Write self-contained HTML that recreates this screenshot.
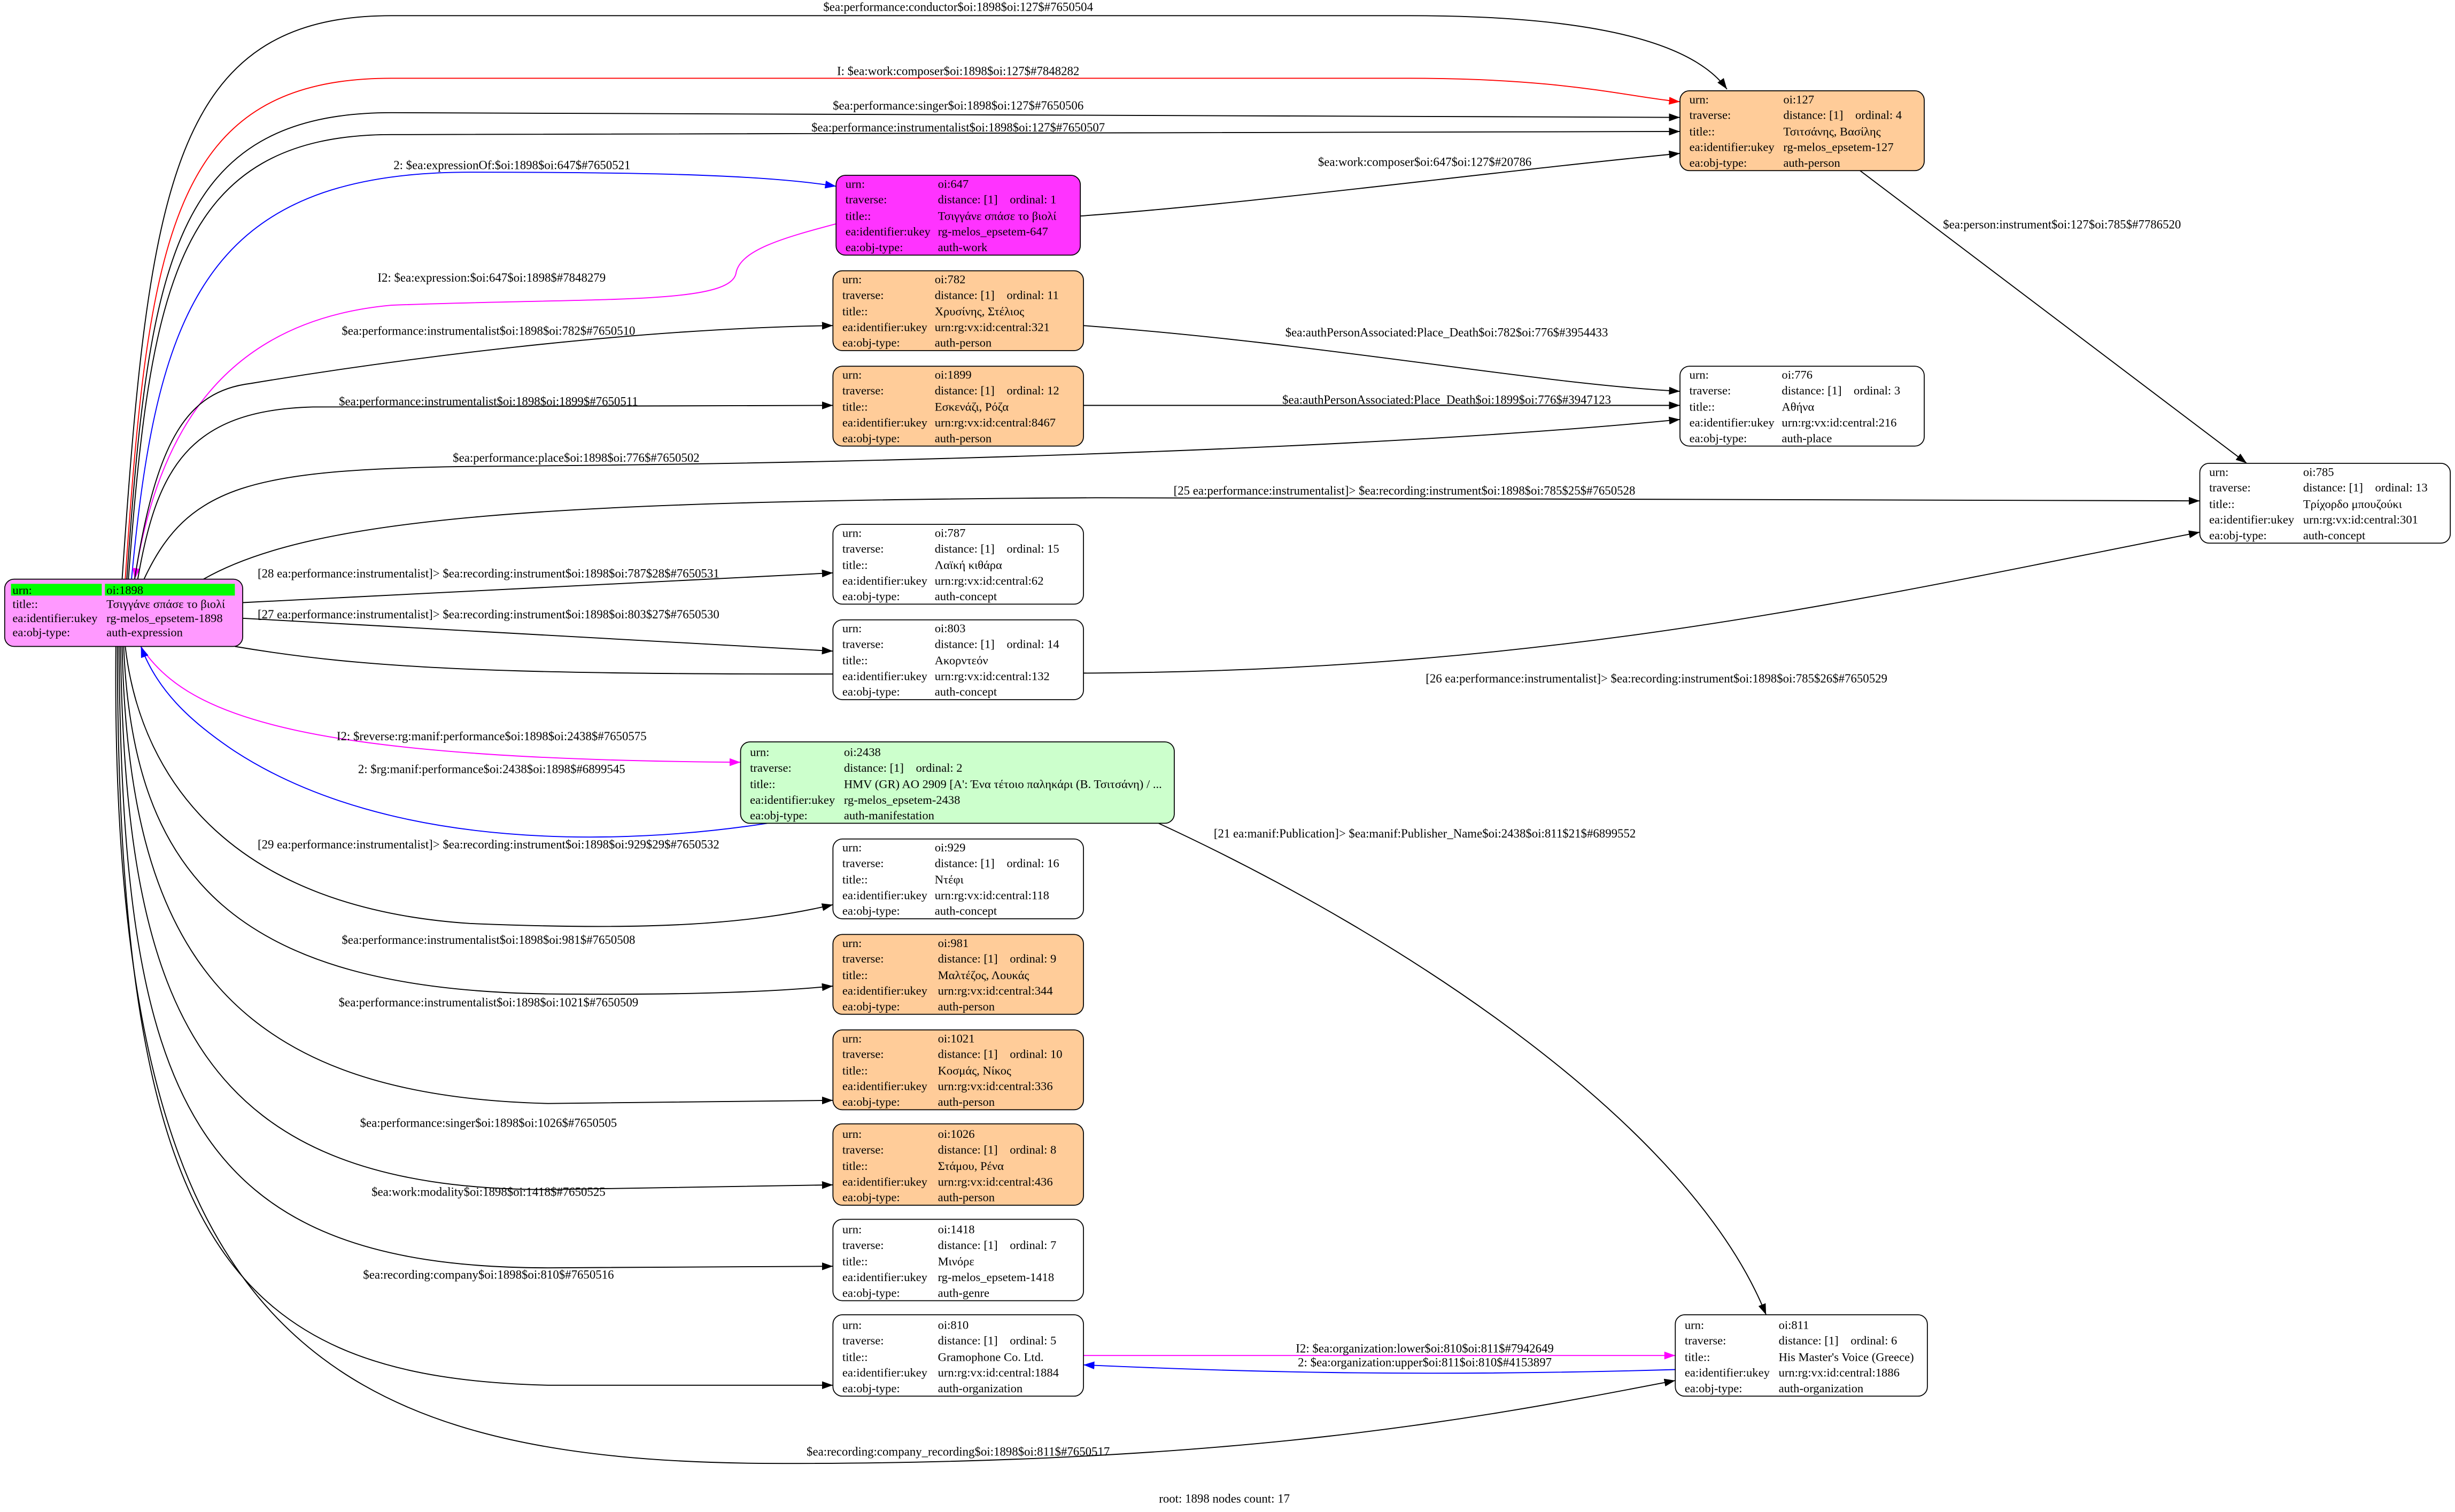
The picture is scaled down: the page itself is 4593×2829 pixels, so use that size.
<!DOCTYPE html>
<html><head><meta charset="utf-8">
<style>
html,body{margin:0;padding:0;background:#fff;}
svg{display:block;}
text{font-family:"Liberation Serif","DejaVu Serif",serif;font-size:7.7px;fill:#000;}
.e text{font-size:7.8px;}
</style></head>
<body>
<svg width="4593" height="2829" viewBox="0 0 1568 966" preserveAspectRatio="none" xmlns="http://www.w3.org/2000/svg">
<defs>
<marker id="ak" markerWidth="7" markerHeight="5" refX="7" refY="2.5" orient="auto" markerUnits="userSpaceOnUse"><path d="M0,0 L7,2.5 L0,5z" fill="#000"/></marker>
<marker id="ar" markerWidth="7" markerHeight="5" refX="7" refY="2.5" orient="auto" markerUnits="userSpaceOnUse"><path d="M0,0 L7,2.5 L0,5z" fill="#f00"/></marker>
<marker id="ab" markerWidth="7" markerHeight="5" refX="7" refY="2.5" orient="auto" markerUnits="userSpaceOnUse"><path d="M0,0 L7,2.5 L0,5z" fill="#00f"/></marker>
<marker id="am" markerWidth="7" markerHeight="5" refX="7" refY="2.5" orient="auto" markerUnits="userSpaceOnUse"><path d="M0,0 L7,2.5 L0,5z" fill="#f0f"/></marker>
</defs>
<g fill="none" stroke-width="0.65">
<path stroke="#000" marker-end="url(#ak)" d="M78,370 C95,120 110,10 250,10 L900,10 C1010,10 1080,25 1103,57"/>
<path stroke="#f00" marker-end="url(#ar)" d="M80,370 C95,150 110,50 250,50 L900,50 C1000,50 1040,62 1073,65"/>
<path stroke="#000" marker-end="url(#ak)" d="M81,370 C95,170 110,72 250,72 L1073,75"/>
<path stroke="#000" marker-end="url(#ak)" d="M82,370 C96,185 112,86 250,86 L1073,84"/>
<path stroke="#00f" marker-end="url(#ab)" d="M84,370 C100,200 130,110 300,110 C420,110 490,112 534,119"/>
<path stroke="#f0f" marker-end="url(#am)" d="M534,143 C500,152 472,160 470,175 C465,195 380,190 250,195 C140,205 100,280 86,370"/>
<path stroke="#000" marker-end="url(#ak)" d="M690,138 C800,130 950,110 1073,98"/>
<path stroke="#000" marker-end="url(#ak)" d="M86,370 C100,280 120,250 160,245 C250,230 400,210 532,208"/>
<path stroke="#000" marker-end="url(#ak)" d="M88,370 C100,300 120,262 200,260 L532,259"/>
<path stroke="#000" marker-end="url(#ak)" d="M92,370 C120,310 160,300 300,298 C600,296 900,285 1073,268"/>
<path stroke="#000" marker-end="url(#ak)" d="M692,208 C850,220 980,245 1073,250"/>
<path stroke="#000" marker-end="url(#ak)" d="M692,259 L1073,259"/>
<path stroke="#000" marker-end="url(#ak)" d="M1188,109 L1435,296"/>
<path stroke="#000" marker-end="url(#ak)" d="M130,370 C200,330 350,320 700,318 L1405,320"/>
<path stroke="#000" marker-end="url(#ak)" d="M155,385 L532,366"/>
<path stroke="#000" marker-end="url(#ak)" d="M155,395 L532,416"/>
<path stroke="#000" marker-end="url(#ak)" d="M150,413 C250,430 350,432 700,430 C1000,428 1200,380 1405,340"/>
<path stroke="#f0f" marker-end="url(#am)" d="M90,413 C120,460 200,485 473,487"/>
<path stroke="#00f" marker-end="url(#ab)" d="M490,526 C400,540 250,545 150,480 C120,460 100,440 90,413"/>
<path stroke="#000" marker-end="url(#ak)" d="M80,413 C90,500 150,580 300,590 C420,595 480,590 532,578"/>
<path stroke="#000" marker-end="url(#ak)" d="M740,526 C900,600 1080,720 1128,840"/>
<path stroke="#000" marker-end="url(#ak)" d="M79,413 C85,560 150,632 350,635 C450,636 500,633 532,630"/>
<path stroke="#000" marker-end="url(#ak)" d="M78,413 C82,600 140,700 350,705 L532,703"/>
<path stroke="#000" marker-end="url(#ak)" d="M77,413 C80,650 130,760 350,760 L532,757"/>
<path stroke="#000" marker-end="url(#ak)" d="M76,413 C78,700 120,810 350,810 L532,809"/>
<path stroke="#000" marker-end="url(#ak)" d="M75,413 C75,800 150,880 350,885 L532,885"/>
<path stroke="#000" marker-end="url(#ak)" d="M74,413 C70,850 200,935 500,935 C800,935 950,905 1070,882"/>
<path stroke="#f0f" marker-end="url(#am)" d="M692,866 L1070,866"/>
<path stroke="#00f" marker-end="url(#ab)" d="M1070,875 C900,880 780,876 692,872"/>
</g>
<g class="e" text-anchor="middle">
<text x="612" y="7">$ea:performance:conductor$oi:1898$oi:127$#7650504</text>
<text x="612" y="48">I: $ea:work:composer$oi:1898$oi:127$#7848282</text>
<text x="612" y="70">$ea:performance:singer$oi:1898$oi:127$#7650506</text>
<text x="612" y="84">$ea:performance:instrumentalist$oi:1898$oi:127$#7650507</text>
<text x="327" y="108">2: $ea:expressionOf:$oi:1898$oi:647$#7650521</text>
<text x="910" y="106">$ea:work:composer$oi:647$oi:127$#20786</text>
<text x="314" y="180">I2: $ea:expression:$oi:647$oi:1898$#7848279</text>
<text x="312" y="214">$ea:performance:instrumentalist$oi:1898$oi:782$#7650510</text>
<text x="924" y="215">$ea:authPersonAssociated:Place_Death$oi:782$oi:776$#3954433</text>
<text x="924" y="258">$ea:authPersonAssociated:Place_Death$oi:1899$oi:776$#3947123</text>
<text x="312" y="259">$ea:performance:instrumentalist$oi:1898$oi:1899$#7650511</text>
<text x="368" y="295">$ea:performance:place$oi:1898$oi:776$#7650502</text>
<text x="1317" y="146">$ea:person:instrument$oi:127$oi:785$#7786520</text>
<text x="897" y="316">[25 ea:performance:instrumentalist]&gt; $ea:recording:instrument$oi:1898$oi:785$25$#7650528</text>
<text x="312" y="369">[28 ea:performance:instrumentalist]&gt; $ea:recording:instrument$oi:1898$oi:787$28$#7650531</text>
<text x="312" y="395">[27 ea:performance:instrumentalist]&gt; $ea:recording:instrument$oi:1898$oi:803$27$#7650530</text>
<text x="1058" y="436">[26 ea:performance:instrumentalist]&gt; $ea:recording:instrument$oi:1898$oi:785$26$#7650529</text>
<text x="314" y="473">I2: $reverse:rg:manif:performance$oi:1898$oi:2438$#7650575</text>
<text x="314" y="494">2: $rg:manif:performance$oi:2438$oi:1898$#6899545</text>
<text x="312" y="542">[29 ea:performance:instrumentalist]&gt; $ea:recording:instrument$oi:1898$oi:929$29$#7650532</text>
<text x="910" y="535">[21 ea:manif:Publication]&gt; $ea:manif:Publisher_Name$oi:2438$oi:811$21$#6899552</text>
<text x="312" y="603">$ea:performance:instrumentalist$oi:1898$oi:981$#7650508</text>
<text x="312" y="643">$ea:performance:instrumentalist$oi:1898$oi:1021$#7650509</text>
<text x="312" y="720">$ea:performance:singer$oi:1898$oi:1026$#7650505</text>
<text x="312" y="764">$ea:work:modality$oi:1898$oi:1418$#7650525</text>
<text x="312" y="817">$ea:recording:company$oi:1898$oi:810$#7650516</text>
<text x="910" y="864">I2: $ea:organization:lower$oi:810$oi:811$#7942649</text>
<text x="910" y="873">2: $ea:organization:upper$oi:811$oi:810$#4153897</text>
<text x="612" y="930">$ea:recording:company_recording$oi:1898$oi:811$#7650517</text>
<text x="782" y="960">root: 1898 nodes count: 17</text>
</g>
<rect x="3" y="370" width="152" height="43" rx="6" fill="#ff99ff" stroke="#000" stroke-width="0.6"/>
<rect x="7" y="373" width="58" height="7.5" fill="#00ff00"/><rect x="67" y="373" width="83" height="7.5" fill="#00ff00"/>
<text x="8" y="379.5">urn:</text><text x="68" y="379.5">oi:1898</text>
<text x="8" y="388.5">title::</text><text x="68" y="388.5">Τσιγγάνε σπάσε το βιολί</text>
<text x="8" y="397.5">ea:identifier:ukey</text><text x="68" y="397.5">rg-melos_epsetem-1898</text>
<text x="8" y="406.5">ea:obj-type:</text><text x="68" y="406.5">auth-expression</text>
<g id="nodes">
<rect x="1073" y="58" width="156" height="51" rx="6" fill="#ffcc99" stroke="#000" stroke-width="0.6"/>
<text x="1079" y="66">urn:</text><text x="1139" y="66">oi:127</text>
<text x="1079" y="76">traverse:</text><text x="1139" y="76">distance: [1]&#160;&#160;&#160;&#160;ordinal: 4</text>
<text x="1079" y="86.5">title::</text><text x="1139" y="86.5">Τσιτσάνης, Βασίλης</text>
<text x="1079" y="96.5">ea:identifier:ukey</text><text x="1139" y="96.5">rg-melos_epsetem-127</text>
<text x="1079" y="106.5">ea:obj-type:</text><text x="1139" y="106.5">auth-person</text>

<rect x="534" y="112" width="156" height="51" rx="6" fill="#ff33ff" stroke="#000" stroke-width="0.6"/>
<text x="540" y="120">urn:</text><text x="599" y="120">oi:647</text>
<text x="540" y="130">traverse:</text><text x="599" y="130">distance: [1]&#160;&#160;&#160;&#160;ordinal: 1</text>
<text x="540" y="140.5">title::</text><text x="599" y="140.5">Τσιγγάνε σπάσε το βιολί</text>
<text x="540" y="150.5">ea:identifier:ukey</text><text x="599" y="150.5">rg-melos_epsetem-647</text>
<text x="540" y="160.5">ea:obj-type:</text><text x="599" y="160.5">auth-work</text>

<rect x="532" y="173" width="160" height="51" rx="6" fill="#ffcc99" stroke="#000" stroke-width="0.6"/>
<text x="538" y="181">urn:</text><text x="597" y="181">oi:782</text>
<text x="538" y="191">traverse:</text><text x="597" y="191">distance: [1]&#160;&#160;&#160;&#160;ordinal: 11</text>
<text x="538" y="201.5">title::</text><text x="597" y="201.5">Χρυσίνης, Στέλιος</text>
<text x="538" y="211.5">ea:identifier:ukey</text><text x="597" y="211.5">urn:rg:vx:id:central:321</text>
<text x="538" y="221.5">ea:obj-type:</text><text x="597" y="221.5">auth-person</text>

<rect x="532" y="234" width="160" height="51" rx="6" fill="#ffcc99" stroke="#000" stroke-width="0.6"/>
<text x="538" y="242">urn:</text><text x="597" y="242">oi:1899</text>
<text x="538" y="252">traverse:</text><text x="597" y="252">distance: [1]&#160;&#160;&#160;&#160;ordinal: 12</text>
<text x="538" y="262.5">title::</text><text x="597" y="262.5">Εσκενάζι, Ρόζα</text>
<text x="538" y="272.5">ea:identifier:ukey</text><text x="597" y="272.5">urn:rg:vx:id:central:8467</text>
<text x="538" y="282.5">ea:obj-type:</text><text x="597" y="282.5">auth-person</text>

<rect x="1073" y="234" width="156" height="51" rx="6" fill="#fff" stroke="#000" stroke-width="0.6"/>
<text x="1079" y="242">urn:</text><text x="1138" y="242">oi:776</text>
<text x="1079" y="252">traverse:</text><text x="1138" y="252">distance: [1]&#160;&#160;&#160;&#160;ordinal: 3</text>
<text x="1079" y="262.5">title::</text><text x="1138" y="262.5">Αθήνα</text>
<text x="1079" y="272.5">ea:identifier:ukey</text><text x="1138" y="272.5">urn:rg:vx:id:central:216</text>
<text x="1079" y="282.5">ea:obj-type:</text><text x="1138" y="282.5">auth-place</text>

<rect x="1405" y="296" width="160" height="51" rx="6" fill="#fff" stroke="#000" stroke-width="0.6"/>
<text x="1411" y="304">urn:</text><text x="1471" y="304">oi:785</text>
<text x="1411" y="314">traverse:</text><text x="1471" y="314">distance: [1]&#160;&#160;&#160;&#160;ordinal: 13</text>
<text x="1411" y="324.5">title::</text><text x="1471" y="324.5">Τρίχορδο μπουζούκι</text>
<text x="1411" y="334.5">ea:identifier:ukey</text><text x="1471" y="334.5">urn:rg:vx:id:central:301</text>
<text x="1411" y="344.5">ea:obj-type:</text><text x="1471" y="344.5">auth-concept</text>

<rect x="532" y="335" width="160" height="51" rx="6" fill="#fff" stroke="#000" stroke-width="0.6"/>
<text x="538" y="343">urn:</text><text x="597" y="343">oi:787</text>
<text x="538" y="353">traverse:</text><text x="597" y="353">distance: [1]&#160;&#160;&#160;&#160;ordinal: 15</text>
<text x="538" y="363.5">title::</text><text x="597" y="363.5">Λαϊκή κιθάρα</text>
<text x="538" y="373.5">ea:identifier:ukey</text><text x="597" y="373.5">urn:rg:vx:id:central:62</text>
<text x="538" y="383.5">ea:obj-type:</text><text x="597" y="383.5">auth-concept</text>

<rect x="532" y="396" width="160" height="51" rx="6" fill="#fff" stroke="#000" stroke-width="0.6"/>
<text x="538" y="404">urn:</text><text x="597" y="404">oi:803</text>
<text x="538" y="414">traverse:</text><text x="597" y="414">distance: [1]&#160;&#160;&#160;&#160;ordinal: 14</text>
<text x="538" y="424.5">title::</text><text x="597" y="424.5">Ακορντεόν</text>
<text x="538" y="434.5">ea:identifier:ukey</text><text x="597" y="434.5">urn:rg:vx:id:central:132</text>
<text x="538" y="444.5">ea:obj-type:</text><text x="597" y="444.5">auth-concept</text>

<rect x="473" y="474" width="277" height="52" rx="6" fill="#ccffcc" stroke="#000" stroke-width="0.6"/>
<text x="479" y="483">urn:</text><text x="539" y="483">oi:2438</text>
<text x="479" y="493">traverse:</text><text x="539" y="493">distance: [1]&#160;&#160;&#160;&#160;ordinal: 2</text>
<text x="479" y="503.5">title::</text><text x="539" y="503.5">HMV (GR) AO 2909 [A': Ένα τέτοιο παληκάρι (Β. Τσιτσάνη) / ...</text>
<text x="479" y="513.5">ea:identifier:ukey</text><text x="539" y="513.5">rg-melos_epsetem-2438</text>
<text x="479" y="523.5">ea:obj-type:</text><text x="539" y="523.5">auth-manifestation</text>

<rect x="532" y="536" width="160" height="51" rx="6" fill="#fff" stroke="#000" stroke-width="0.6"/>
<text x="538" y="544">urn:</text><text x="597" y="544">oi:929</text>
<text x="538" y="554">traverse:</text><text x="597" y="554">distance: [1]&#160;&#160;&#160;&#160;ordinal: 16</text>
<text x="538" y="564.5">title::</text><text x="597" y="564.5">Ντέφι</text>
<text x="538" y="574.5">ea:identifier:ukey</text><text x="597" y="574.5">urn:rg:vx:id:central:118</text>
<text x="538" y="584.5">ea:obj-type:</text><text x="597" y="584.5">auth-concept</text>

<rect x="532" y="597" width="160" height="51" rx="6" fill="#ffcc99" stroke="#000" stroke-width="0.6"/>
<text x="538" y="605">urn:</text><text x="599" y="605">oi:981</text>
<text x="538" y="615">traverse:</text><text x="599" y="615">distance: [1]&#160;&#160;&#160;&#160;ordinal: 9</text>
<text x="538" y="625.5">title::</text><text x="599" y="625.5">Μαλτέζος, Λουκάς</text>
<text x="538" y="635.5">ea:identifier:ukey</text><text x="599" y="635.5">urn:rg:vx:id:central:344</text>
<text x="538" y="645.5">ea:obj-type:</text><text x="599" y="645.5">auth-person</text>

<rect x="532" y="658" width="160" height="51" rx="6" fill="#ffcc99" stroke="#000" stroke-width="0.6"/>
<text x="538" y="666">urn:</text><text x="599" y="666">oi:1021</text>
<text x="538" y="676">traverse:</text><text x="599" y="676">distance: [1]&#160;&#160;&#160;&#160;ordinal: 10</text>
<text x="538" y="686.5">title::</text><text x="599" y="686.5">Κοσμάς, Νίκος</text>
<text x="538" y="696.5">ea:identifier:ukey</text><text x="599" y="696.5">urn:rg:vx:id:central:336</text>
<text x="538" y="706.5">ea:obj-type:</text><text x="599" y="706.5">auth-person</text>

<rect x="532" y="718" width="160" height="52" rx="6" fill="#ffcc99" stroke="#000" stroke-width="0.6"/>
<text x="538" y="727">urn:</text><text x="599" y="727">oi:1026</text>
<text x="538" y="737">traverse:</text><text x="599" y="737">distance: [1]&#160;&#160;&#160;&#160;ordinal: 8</text>
<text x="538" y="747.5">title::</text><text x="599" y="747.5">Στάμου, Ρένα</text>
<text x="538" y="757.5">ea:identifier:ukey</text><text x="599" y="757.5">urn:rg:vx:id:central:436</text>
<text x="538" y="767.5">ea:obj-type:</text><text x="599" y="767.5">auth-person</text>

<rect x="532" y="779" width="160" height="52" rx="6" fill="#fff" stroke="#000" stroke-width="0.6"/>
<text x="538" y="788">urn:</text><text x="599" y="788">oi:1418</text>
<text x="538" y="798">traverse:</text><text x="599" y="798">distance: [1]&#160;&#160;&#160;&#160;ordinal: 7</text>
<text x="538" y="808.5">title::</text><text x="599" y="808.5">Μινόρε</text>
<text x="538" y="818.5">ea:identifier:ukey</text><text x="599" y="818.5">rg-melos_epsetem-1418</text>
<text x="538" y="828.5">ea:obj-type:</text><text x="599" y="828.5">auth-genre</text>

<rect x="532" y="840" width="160" height="52" rx="6" fill="#fff" stroke="#000" stroke-width="0.6"/>
<text x="538" y="849">urn:</text><text x="599" y="849">oi:810</text>
<text x="538" y="859">traverse:</text><text x="599" y="859">distance: [1]&#160;&#160;&#160;&#160;ordinal: 5</text>
<text x="538" y="869.5">title::</text><text x="599" y="869.5">Gramophone Co. Ltd.</text>
<text x="538" y="879.5">ea:identifier:ukey</text><text x="599" y="879.5">urn:rg:vx:id:central:1884</text>
<text x="538" y="889.5">ea:obj-type:</text><text x="599" y="889.5">auth-organization</text>

<rect x="1070" y="840" width="161" height="52" rx="6" fill="#fff" stroke="#000" stroke-width="0.6"/>
<text x="1076" y="849">urn:</text><text x="1136" y="849">oi:811</text>
<text x="1076" y="859">traverse:</text><text x="1136" y="859">distance: [1]&#160;&#160;&#160;&#160;ordinal: 6</text>
<text x="1076" y="869.5">title::</text><text x="1136" y="869.5">His Master's Voice (Greece)</text>
<text x="1076" y="879.5">ea:identifier:ukey</text><text x="1136" y="879.5">urn:rg:vx:id:central:1886</text>
<text x="1076" y="889.5">ea:obj-type:</text><text x="1136" y="889.5">auth-organization</text>
</g>
</svg>
</body></html>
